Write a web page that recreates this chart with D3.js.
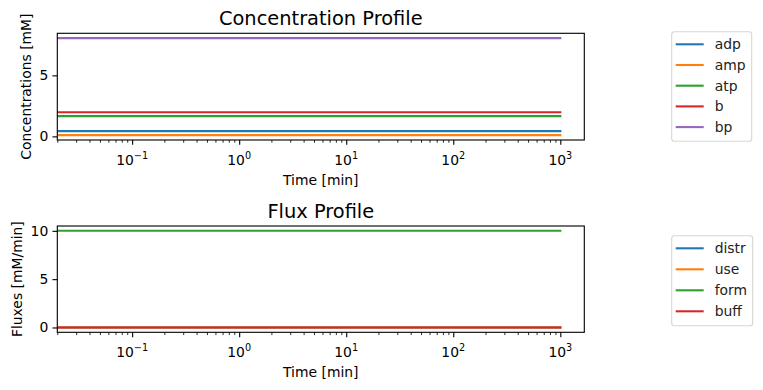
<!DOCTYPE html>
<html>
<head>
<meta charset="utf-8">
<script src="https://cdn.jsdelivr.net/npm/d3@7"></script>
<style>
  html, body { margin: 0; padding: 0; background: #fff; }
  svg { display: block; font-family: "DejaVu Sans", sans-serif; }
</style>
</head>
<body>
<svg id="chart" width="763" height="390"></svg>
<script>
// ---------------- data ----------------
const timePoints = [0, 0.1, 1, 10, 100, 1000];           // minutes
const xLimits = [0.02, 1675];                             // axis limits (log)
const xTickValues = [0.1, 1, 10, 100, 1000];
const xTickExponents = ["−1", "0", "1", "2", "3"];

const concNames = ["adp", "amp", "atp", "b", "bp"];
const concAdp = [0.43, 0.43, 0.43, 0.43, 0.43, 0.43];
const concAmp = [0.1, 0.1, 0.1, 0.1, 0.1, 0.1];
const concAtp = [1.66, 1.66, 1.66, 1.66, 1.66, 1.66];
const concB   = [1.98, 1.98, 1.98, 1.98, 1.98, 1.98];
const concBp  = [8.05, 8.05, 8.05, 8.05, 8.05, 8.05];
const concTicks = [0, 5];

const fluxNames = ["distr", "use", "form", "buff"];
const fluxDistr = [0, 0, 0, 0, 0, 0];
const fluxUse   = [0, 0, 0, 0, 0, 0];
const fluxForm  = [10, 10, 10, 10, 10, 10];
const fluxBuff  = [0, 0, 0, 0, 0, 0];
const fluxTicks = [0, 5, 10];

const palette = ["#1f77b4", "#ff7f0e", "#2ca02c", "#d62728", "#9467bd"];

// ---------------- drawing ----------------
const svg = d3.select("#chart");

function drawPanel(cfg) {
  const { left, right, top, bottom, title, ylabel, ylabelX, names, series, yTicks, legend } = cfg;

  const x = d3.scaleLog().domain(xLimits).range([left, right]).clamp(true);
  const allVals = series.flat();
  const lo = d3.min(allVals), hi = d3.max(allVals);
  const pad = (hi - lo) * 0.05;
  const y = d3.scaleLinear().domain([lo - pad, hi + pad]).range([bottom, top]);

  const g = svg.append("g");
  const clipId = "clip" + Math.round(top);
  svg.append("defs").append("clipPath").attr("id", clipId)
    .append("rect").attr("x", left).attr("y", top).attr("width", right - left).attr("height", bottom - top);

  // lines
  const line = d3.line().x(d => x(d[0])).y(d => y(d[1]));
  const lg = g.append("g").attr("clip-path", `url(#${clipId})`);
  series.forEach((vals, i) => {
    lg.append("path")
      .datum(timePoints.map((t, k) => [t, vals[k]]))
      .attr("d", line)
      .attr("fill", "none")
      .attr("stroke", palette[i])
      .attr("stroke-width", 2.08)
      .attr("stroke-linecap", "square");
  });

  // x axis: major ticks
  const xAxis = d3.axisBottom(x).tickValues(xTickValues).tickSize(4.86).tickPadding(4).tickFormat("");
  const xg = g.append("g").attr("transform", `translate(0,${bottom})`).call(xAxis);
  xg.select(".domain").remove();
  xg.selectAll(".tick line").attr("stroke", "#000").attr("stroke-width", 1.11);

  // minor ticks
  const minor = [];
  for (let e = -2; e <= 3; e++) for (let m = 2; m <= 9; m++) {
    const v = m * Math.pow(10, e);
    if (v >= xLimits[0] && v <= xLimits[1]) minor.push(v);
  }
  const xm = d3.axisBottom(x).tickValues(minor).tickSize(2.78).tickFormat("");
  const xmg = g.append("g").attr("transform", `translate(0,${bottom})`).call(xm);
  xmg.select(".domain").remove();
  xmg.selectAll(".tick line").attr("stroke", "#000").attr("stroke-width", 0.83);

  // x tick labels (10^n)
  xTickValues.forEach((v, i) => {
    const t = g.append("text")
      .attr("x", x(v)).attr("y", bottom + 25)
      .attr("text-anchor", "middle")
      .attr("font-size", 13.9).attr("fill", "#000");
    t.append("tspan").text("10");
    t.append("tspan").attr("dy", -6).attr("font-size", 9.7).text(xTickExponents[i]);
  });

  g.append("text").attr("x", (left + right) / 2).attr("y", bottom + 45)
    .attr("text-anchor", "middle").attr("font-size", 13.9).text("Time [min]");

  // y axis
  const yAxis = d3.axisLeft(y).tickValues(yTicks).tickSize(4.86).tickPadding(4.2).tickFormat(d3.format("d"));
  const yg = g.append("g").attr("transform", `translate(${left},0)`).call(yAxis);
  yg.select(".domain").remove();
  yg.selectAll(".tick line").attr("stroke", "#000").attr("stroke-width", 1.11);
  yg.selectAll(".tick text").attr("font-size", 13.9).attr("fill", "#000")
    .attr("font-family", "DejaVu Sans");

  g.append("text")
    .attr("transform", `translate(${ylabelX},${(top + bottom) / 2}) rotate(-90)`)
    .attr("text-anchor", "middle").attr("font-size", 13.9).text(ylabel);

  // frame
  g.append("rect").attr("x", left).attr("y", top).attr("width", right - left).attr("height", bottom - top)
    .attr("fill", "none").attr("stroke", "#000").attr("stroke-width", 1.11);

  // title
  g.append("text").attr("x", (left + right) / 2).attr("y", top - 8.3)
    .attr("text-anchor", "middle").attr("font-size", 19.4).text(title);

  // legend
  const { lx, ly, lw, rowH } = legend;
  const lh = names.length * rowH + 6;
  g.append("rect").attr("x", lx).attr("y", ly).attr("width", lw).attr("height", lh)
    .attr("rx", 2.8).attr("fill", "#fff").attr("stroke", "#d6d6d6").attr("stroke-width", 1.11);
  names.forEach((n, i) => {
    const cy = ly + 12.6 + i * rowH;
    g.append("line").attr("x1", lx + 4).attr("x2", lx + 32).attr("y1", cy).attr("y2", cy)
      .attr("stroke", palette[i]).attr("stroke-width", 2.08);
    g.append("text").attr("x", lx + 43).attr("y", cy).attr("dy", "0.35em")
      .attr("font-size", 13.9).attr("fill", "#222").text(n);
  });
}

drawPanel({
  left: 57.3, right: 584.3, top: 33.3, bottom: 140,
  title: "Concentration Profile", ylabel: "Concentrations [mM]", ylabelX: 30.5,
  names: concNames, series: [concAdp, concAmp, concAtp, concB, concBp], yTicks: concTicks,
  legend: { lx: 671.7, ly: 31.7, lw: 80, rowH: 20.7 }
});

drawPanel({
  left: 57.3, right: 584.3, top: 226, bottom: 332.3,
  title: "Flux Profile", ylabel: "Fluxes [mM/min]", ylabelX: 21.5,
  names: fluxNames, series: [fluxDistr, fluxUse, fluxForm, fluxBuff], yTicks: fluxTicks,
  legend: { lx: 671.7, ly: 235.7, lw: 81, rowH: 21 }
});
</script>
</body>
</html>
